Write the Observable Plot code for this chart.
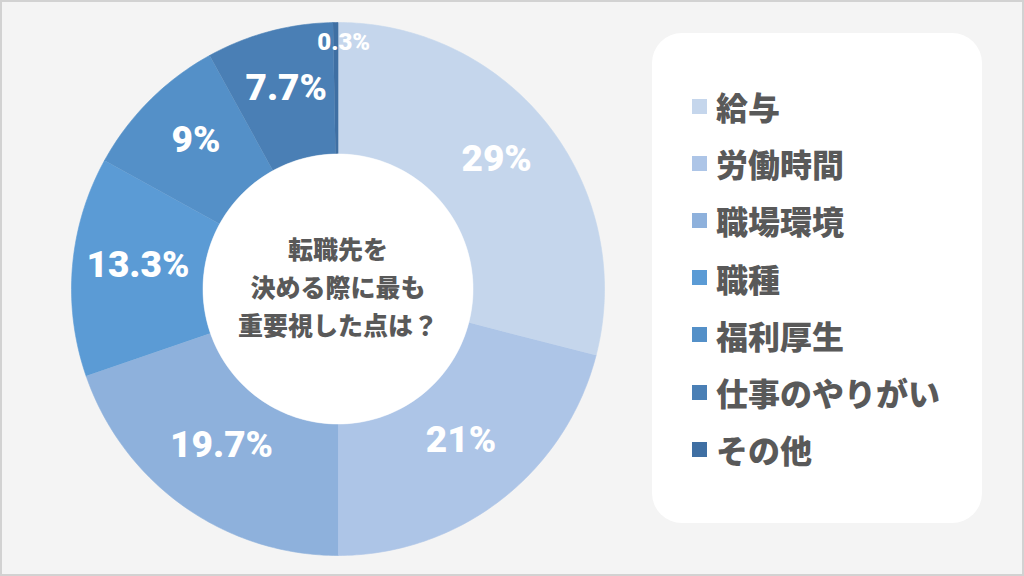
<!DOCTYPE html>
<html>
<head>
<meta charset="utf-8">
<script src="https://cdn.jsdelivr.net/npm/d3@7"></script>
<script src="https://cdn.jsdelivr.net/npm/@observablehq/plot@0.6"></script>
<style>
  html, body { margin: 0; padding: 0; background: #f4f4f4; }
  #wrap { position: relative; width: 1024px; height: 576px; background: #f4f4f4; overflow: hidden; }
  #chart { position: absolute; left: 0; top: 0; }
  #frame { position: absolute; left: 0; top: 0; width: 1024px; height: 576px; box-sizing: border-box; border: 2px solid #d2d2d2; pointer-events: none; }
  #legend { position: absolute; left: 652px; top: 33px; width: 330px; height: 490px; background: #ffffff; border-radius: 30px; }
  .item { position: absolute; left: 40px; display: flex; align-items: center; font-family: "Noto Sans CJK JP", sans-serif; font-weight: 900; font-size: 32px; color: #595959; line-height: 1; }
  .sw { width: 15px; height: 15px; margin-right: 9px; }
</style>
</head>
<body>
<div id="wrap">
  <div id="chart"></div>
  <div id="legend"></div>
  <div id="frame"></div>
</div>
<script>
const categories = ["給与", "労働時間", "職場環境", "職種", "福利厚生", "仕事のやりがい", "その他"];
const values = [29, 21, 19.7, 13.3, 9, 7.7, 0.3];
const labels = ["29%", "21%", "19.7%", "13.3%", "9%", "7.7%", "0.3%"];
const colors = ["#c5d6ec", "#adc5e7", "#8eb1dc", "#5b9bd5", "#5490c8", "#4a7fb5", "#3f6fa3"];
const centerLines = ["転職先を", "決める際に最も", "重要視した点は？"];

const W = 1024, H = 576;
const cx = 337.5, cy = 288.5, R = 266.5, holeR = 135;
const inner = holeR / R;

const data = categories.map((c, i) => ({name: c, value: values[i], label: labels[i]}));
const arcs = d3.pie().sort(null).value(d => d.value)(data);

const slicePts = [];
arcs.forEach(a => {
  const n = Math.max(2, Math.ceil((a.endAngle - a.startAngle) / (Math.PI / 180)));
  for (let k = 0; k <= n; k++) {
    const t = a.startAngle + (a.endAngle - a.startAngle) * k / n;
    slicePts.push({name: a.data.name, x: Math.sin(t), y: -Math.cos(t)});
  }
  for (let k = n; k >= 0; k--) {
    const t = a.startAngle + (a.endAngle - a.startAngle) * k / n;
    slicePts.push({name: a.data.name, x: inner * Math.sin(t), y: -inner * Math.cos(t)});
  }
});

const holePts = d3.range(0, 361, 2).map(deg => {
  const t = deg * Math.PI / 180;
  return {x: inner * Math.sin(t), y: -inner * Math.cos(t)};
});

const labelPts = arcs.map(a => {
  const m = (a.startAngle + a.endAngle) / 2;
  const small = a.data.value < 1;
  const rr = small ? 0.925 : (1 + inner) / 2;
  return {x: rr * Math.sin(m) + (small ? 0.03 : 0), y: -rr * Math.cos(m), label: a.data.label, small};
});

const chart = Plot.plot({
  width: W,
  height: H,
  margin: 0,
  style: {background: "transparent", overflow: "visible"},
  x: {domain: [-cx / R, (W - cx) / R], range: [0, W], axis: null},
  y: {domain: [-cy / R, (H - cy) / R], range: [0, H], axis: null},
  color: {domain: categories, range: colors},
  marks: [
    Plot.line(slicePts, {x: "x", y: "y", z: "name", fill: "name", stroke: "name", strokeWidth: 0.6, curve: "linear"}),
    Plot.line(holePts, {x: "x", y: "y", fill: "white", stroke: "white", strokeWidth: 0.5, curve: "linear"}),
    Plot.text(labelPts.filter(d => !d.small), {x: "x", y: "y", text: "label", dy: -7, fill: "white", fontSize: 37, fontWeight: 900, fontFamily: "Roboto, sans-serif", textAnchor: "middle", lineAnchor: "middle"}),
    Plot.text(labelPts.filter(d => d.small), {x: "x", y: "y", text: "label", fill: "white", fontSize: 24, fontWeight: 900, fontFamily: "Roboto, sans-serif", textAnchor: "middle", lineAnchor: "middle"}),
    Plot.text([centerLines.join("\n")], {x: () => 0, y: () => 0, text: d => d, dy: -4, fill: "#595959", fontSize: 25, fontWeight: 900, fontFamily: "'Noto Sans CJK JP', sans-serif", lineHeight: 1.52, textAnchor: "middle", lineAnchor: "middle"})
  ]
});
document.getElementById("chart").appendChild(chart);

const legend = document.getElementById("legend");
categories.forEach((c, i) => {
  const row = document.createElement("div");
  row.className = "item";
  row.style.top = (73 + i * 57.2 - 16) + "px";
  const sw = document.createElement("span");
  sw.className = "sw";
  sw.style.background = colors[i];
  const tx = document.createElement("span");
  tx.textContent = c;
  row.appendChild(sw);
  row.appendChild(tx);
  legend.appendChild(row);
});
</script>
</body>
</html>
